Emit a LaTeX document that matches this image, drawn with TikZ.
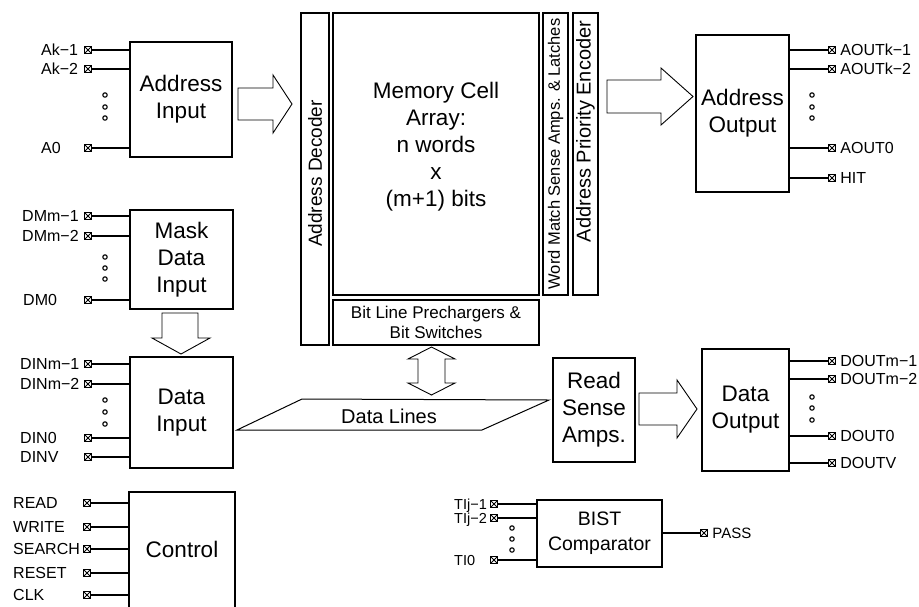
\documentclass[tikz,border=0pt]{standalone}
\usepackage{fontspec}
\setmainfont{Liberation Sans}
\tikzset{
 box/.style={draw, line width=1.5pt, inner sep=0pt, align=center},
 big/.style={font=\fontsize{22.5}{27}\selectfont, align=center},
 wire/.style={line width=1.4pt},
 plabel/.style={inner sep=0pt, font=\fontsize{16}{16}\selectfont, text height=11.5pt, text depth=0pt},
 pinsq/.style={draw, line width=1.4pt, minimum size=7pt, inner sep=0pt,
   path picture={\draw[line width=1pt] (path picture bounding box.north west) -- (path picture bounding box.south east)
     (path picture bounding box.north east) -- (path picture bounding box.south west);}},
 hollow/.style={draw, line width=0.9pt, fill=white, line join=miter},
 dotc/.style={line width=1.1pt}
}
\newcommand\mkpinL[6]{%
  \node[plabel,anchor=west] (#1l) at (#3,#5) {#2};
  \node[pinsq] (#1) at (#4,#5) {};
  \draw[wire] (#1.east) -- (#1.east -| #6.west);}
\newcommand\mkpinR[5]{%
  \node[pinsq] (#1) at (#3,#4) {};
  \node[plabel,anchor=west] (#1l) at ([xshift=4pt]#1.east) {#2};
  \draw[wire] (#1.west -| #5.east) -- (#1.west);}
\begin{document}
\begin{tikzpicture}[x=1pt,y=-1pt]
\useasboundingbox (0,0) rectangle (919,606);
\clip (0,0) rectangle (919,606);

% ---------- blocks ----------
\node[box,big,minimum width=102pt,minimum height=115pt] (ai) at (181,99.5) {Address\\Input};
\node[box,big,minimum width=103pt,minimum height=99pt] (mdi) at (181.5,259.5) {Mask\\Data\\Input};
\node[box,big,minimum width=103pt,minimum height=111pt] (di) at (181.5,412.5) {Data\\Input};
\node[box,minimum width=106pt,minimum height=130pt,anchor=north] (ctrl) at (182,491) {};
\node[big] (ctrlt) at (182,549) {Control};

\node[box,minimum width=28pt,minimum height=332pt] (ad) at (315,179) {};
\node[rotate=90,inner sep=0pt,font=\fontsize{19}{19}\selectfont] (adt) at (315,173.5) {Address Decoder};
\node[box,minimum width=206pt,minimum height=282pt] (mca) at (436,154) {};
\node[big] (mcat) at (436,147) {Memory Cell\\Array:\\n words\\x\\(m+1) bits};
\node[box,minimum width=25pt,minimum height=282pt] (wm) at (555.5,154) {};
\node[rotate=90,inner sep=0pt,font=\fontsize{16.5}{16.5}\selectfont] (wmt) at (555.5,154) {Word Match Sense Amps. \& Latches};
\node[box,minimum width=25pt,minimum height=282pt] (ape) at (585.5,154) {};
\node[rotate=90,inner sep=0pt,font=\fontsize{20}{20}\selectfont] (apet) at (585.5,131.5) {Address Priority Encoder};
\node[box,minimum width=206pt,minimum height=45pt,font=\fontsize{17}{20}\selectfont] (bl) at (436,322.5) {Bit Line Prechargers \&\\Bit Switches};

\node[box,big,minimum width=93pt,minimum height=157pt] (ao) at (742.5,113.5) {Address\\Output};
\node[box,big,minimum width=82pt,minimum height=104pt] (rsa) at (594,410) {Read\\Sense\\Amps.};
\node[box,big,minimum width=87pt,minimum height=122pt] (do) at (745.5,410) {Data\\Output};
\node[box,minimum width=125pt,minimum height=67pt,font=\fontsize{19.5}{25}\selectfont] (bist) at (599.5,533.5) {BIST\\Comparator};

% ---------- data lines ----------
\draw[line width=1pt] (237,430) -- (302,399) -- (549,400) -- (482,430) -- cycle;
\node[font=\fontsize{20}{20}\selectfont] (dlt) at (389,416) {Data Lines};

% ---------- hollow arrows ----------
\draw[hollow] (238,88) -- (273,88) -- (273,75) -- (292,104) -- (273,133) -- (273,120) -- (238,120) -- cycle;
\draw[hollow] (607,80) -- (661,80) -- (661,68) -- (693,96.5) -- (661,125) -- (661,113) -- (607,113) -- cycle;
\draw[hollow] (162,313) -- (198,313) -- (198,338) -- (210,338) -- (181,354) -- (152,338) -- (162,338) -- cycle;
\draw[hollow] (431.5,347) -- (455,359) -- (445,359) -- (445,383) -- (455,383) -- (431.5,395) -- (408,383) -- (418,383) -- (418,359) -- (408,359) -- cycle;
\draw[hollow] (639,393) -- (677,393) -- (677,380) -- (697,409) -- (677,438) -- (677,425) -- (639,425) -- cycle;

% ---------- dots ----------
\foreach \y in {95,107,118} {\draw[dotc] (105,\y) circle (2.2pt); \draw[dotc] (812,\y) circle (2.2pt);}
\foreach \y in {257,268,279} \draw[dotc] (105,\y) circle (2.2pt);
\foreach \y in {400,412,424} \draw[dotc] (105,\y) circle (2.2pt);
\foreach \y in {397,408,420} \draw[dotc] (812,\y) circle (2.2pt);
\foreach \y in {528,539,550} \draw[dotc] (512,\y) circle (2.2pt);

% ---------- left pins ----------
\mkpinL{pAa}{Ak−1}{41}{88}{50}{ai}
\mkpinL{pAb}{Ak−2}{41}{88}{69}{ai}
\mkpinL{pAz}{A0}{41}{88}{148}{ai}
\mkpinL{pMa}{DMm−1}{22}{88}{216}{mdi}
\mkpinL{pMb}{DMm−2}{22}{88}{236}{mdi}
\mkpinL{pMz}{DM0}{23}{88}{300}{mdi}
\mkpinL{pDa}{DINm−1}{20}{88}{364}{di}
\mkpinL{pDb}{DINm−2}{20}{88}{384}{di}
\mkpinL{pDz}{DIN0}{20}{88}{438}{di}
\mkpinL{pDv}{DINV}{20}{88}{457}{di}
\mkpinL{pRd}{READ}{13}{87}{503}{ctrl}
\mkpinL{pWr}{WRITE}{13}{87}{527}{ctrl}
\mkpinL{pSe}{SEARCH}{13}{87}{549}{ctrl}
\mkpinL{pRs}{RESET}{13}{87}{573}{ctrl}
\mkpinL{pCk}{CLK}{13}{87}{595}{ctrl}
\begin{scope}[plabel/.append style={font=\fontsize{14.5}{14.5}\selectfont, text height=10.4pt}]
\mkpinL{pTa}{TIj−1}{454}{494}{504}{bist}
\mkpinL{pTb}{TIj−2}{454}{494}{518}{bist}
\mkpinL{pTz}{TI0}{454}{494}{560}{bist}
\end{scope}

% ---------- right pins ----------
\mkpinR{pOa}{AOUTk−1}{832}{50}{ao}
\mkpinR{pOb}{AOUTk−2}{832}{69}{ao}
\mkpinR{pOz}{AOUT0}{832}{148}{ao}
\mkpinR{pHit}{HIT}{832}{178}{ao}
\mkpinR{pQa}{DOUTm−1}{832}{361}{do}
\mkpinR{pQb}{DOUTm−2}{832}{379}{do}
\mkpinR{pQz}{DOUT0}{832}{436}{do}
\mkpinR{pQv}{DOUTV}{832}{463}{do}
\begin{scope}[plabel/.append style={font=\fontsize{15}{15}\selectfont, text height=10.7pt}]
\mkpinR{pPass}{PASS}{704}{533}{bist}
\end{scope}
\end{tikzpicture}
\end{document}
